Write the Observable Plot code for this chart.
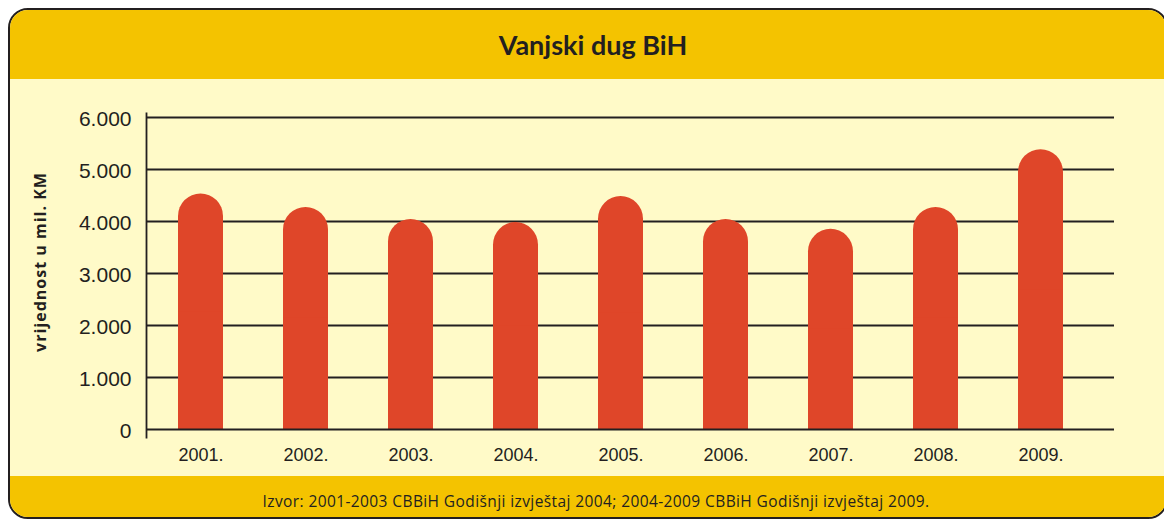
<!DOCTYPE html>
<html>
<head>
<meta charset="utf-8">
<script src="https://cdn.jsdelivr.net/npm/d3@7"></script>
<script src="https://cdn.jsdelivr.net/npm/@observablehq/plot@0.6"></script>
<style>
  html, body { margin: 0; padding: 0; background: #ffffff; }
  #wrap { position: relative; width: 1164px; height: 519px; overflow: hidden; }
  #frame {
    position: absolute; left: 8px; top: 8px; width: 1156px; height: 507px;
    border: 2px solid #231F20; border-radius: 20px; background: #FFFAC8; overflow: hidden;
  }
  #titlebar { position: absolute; left: 0; top: 0; width: 1156px; height: 69px; background: #F4C300;
    display: flex; align-items: center; justify-content: center; padding-left: 10px; box-sizing: border-box;
    font-family: Lato, "Open Sans", sans-serif; font-weight: bold; font-size: 27px; color: #231F20; }
  #footer { position: absolute; left: 0; top: 466px; width: 1156px; height: 60px; background: #F4C300;
    font-family: "Open Sans", Lato, sans-serif; font-size: 15.5px; letter-spacing: 0.4px; color: #231F20; text-align: center;
    line-height: 16px; padding-top: 17px; padding-left: 16px; box-sizing: border-box; }
  #chart { position: absolute; left: 0; top: 79px; }
  #ylabel { position: absolute; left: 40px; top: 262px; transform: translate(-50%, -50%) rotate(-90deg);
    white-space: nowrap; font-family: "Open Sans", Lato, sans-serif; font-weight: bold; font-size: 16px;
    letter-spacing: 1px; color: #231F20; }
</style>
</head>
<body>
<div id="wrap">
  <div id="frame">
    <div id="titlebar">Vanjski dug BiH</div>
    <div id="footer">Izvor: 2001-2003 CBBiH Godišnji izvještaj 2004; 2004-2009 CBBiH Godišnji izvještaj 2009.</div>
  </div>
  <div id="ylabel">vrijednost u mil. KM</div>
  <div id="chart"></div>
</div>
<script>
const years = ["2001.", "2002.", "2003.", "2004.", "2005.", "2006.", "2007.", "2008.", "2009."];
const values = [4530, 4270, 4040, 3980, 4480, 4040, 3850, 4270, 5380];
const yTicks = [0, 1000, 2000, 3000, 4000, 5000, 6000];

const data = years.map((year, i) => ({year, value: values[i]}));
const fmt = d => d3.format(",")(d).replace(/,/g, ".");
const barColor = "#DF4629";
const ink = "#231F20";

const chart = Plot.plot({
  width: 1164,
  height: 397,
  marginLeft: 146,
  marginRight: 50,
  marginTop: 38,
  marginBottom: 47,
  style: {background: "transparent", fontFamily: "'Liberation Sans', Arial, sans-serif", color: ink},
  x: {domain: years, range: [146, 1095], paddingInner: 0.573, paddingOuter: 0.2865, label: null},
  y: {domain: [0, 6000], label: null},
  marks: [
    Plot.ruleY(yTicks.filter(d => d > 0), {stroke: ink, strokeWidth: 1.8, strokeOpacity: 1}),
    Plot.barY(data, {x: "year", y: "value", fill: barColor, rx: 22.5}),
    Plot.barY(data, {x: "year", y: d => d.value / 2, fill: barColor}),
    Plot.ruleY([0], {stroke: ink, strokeWidth: 1.8}),
    Plot.frame({anchor: "left", stroke: ink, strokeWidth: 1.8, insetTop: -4, insetBottom: -8}),
    Plot.axisY({ticks: yTicks, tickSize: 0, tickPadding: 15, tickFormat: fmt, fontSize: 21, dy: 2, label: null}),
    Plot.axisX({tickSize: 0, tickPadding: 19, fontSize: 18, label: null})
  ]
});
document.getElementById("chart").appendChild(chart);
</script>
</body>
</html>
